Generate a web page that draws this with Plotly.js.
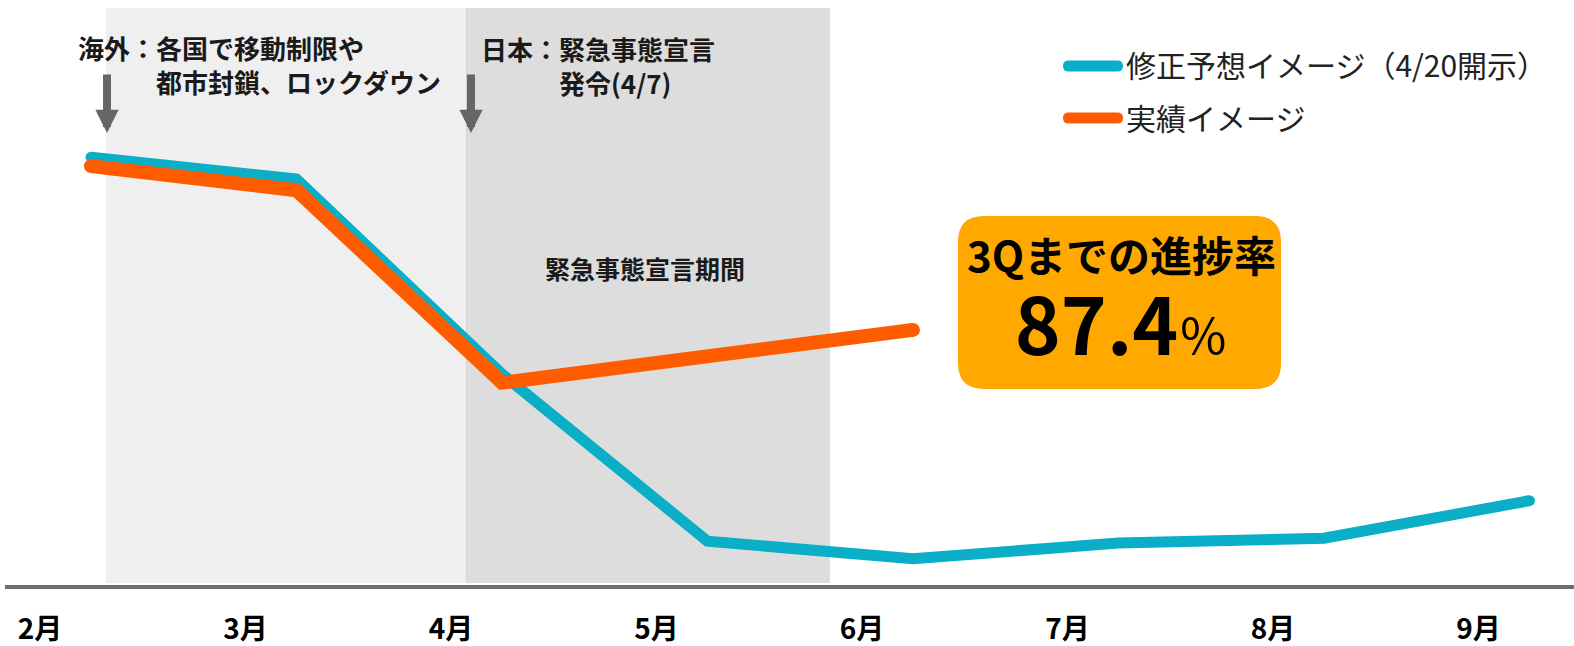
<!DOCTYPE html>
<html><head><meta charset="utf-8">
<script src="https://cdn.plot.ly/plotly-3.0.1.min.js"></script>
<style>html,body{margin:0;padding:0;background:#fff}</style>
</head><body><div id="chart" style="width:1574px;height:646px"></div>
<script>
// ---- data ----
const months = ['2月','3月','4月','5月','6月','7月','8月','9月'];
const forecastName = '修正予想イメージ（4/20開示）';
const actualName = '実績イメージ';
const forecast = [73.2, 69.5, 36.3, 7.8, 4.8, 7.5, 8.3, 14.7];
const actual = [71.7, 67.6, 34.8, null, 43.8];   // no May point: straight line Apr -> Jun
const progressLabel = '3Qまでの進捗率';
const progressValue = '87.4';
const overseasNote = ['海外：各国で移動制限や', '都市封鎖、ロックダウン'];
const japanNote = ['日本：緊急事態宣言', '発令(4/7)'];
const periodLabel = '緊急事態宣言期間';

// ---- layout helpers (pixel -> axis units) ----
const UNIT = 205.5, X0PX = 40;
const X = px => (px - X0PX) / UNIT;
const Y = py => (587 - py) / 5.87;
const OFFSET = 0.248;

const BLUE = '#0AAEC6', ORANGE = '#FF5C00', BOX = '#FFA800';
const CJK = 'Noto Sans CJK JP, Noto Sans, sans-serif';
const IND = '\u3000\u3000\u3000';

function roundRect(x0, y0, x1, y1, r) {
  const p = (a, b) => X(a) + ',' + Y(b);
  return 'M' + p(x0 + r, y0) + ' L' + p(x1 - r, y0) + ' Q' + p(x1, y0) + ' ' + p(x1, y0 + r) +
    ' L' + p(x1, y1 - r) + ' Q' + p(x1, y1) + ' ' + p(x1 - r, y1) +
    ' L' + p(x0 + r, y1) + ' Q' + p(x0, y1) + ' ' + p(x0, y1 - r) +
    ' L' + p(x0, y0 + r) + ' Q' + p(x0, y0) + ' ' + p(x0 + r, y0) + ' Z';
}
function endSizes(arr, s) {
  const idx = arr.map((v, i) => v == null ? -1 : i).filter(i => i >= 0);
  const first = idx[0], last = idx[idx.length - 1];
  return arr.map((_, i) => (i === first || i === last) ? s : 0);
}

const traces = [
  {
    name: forecastName, type: 'scatter', mode: 'lines+markers',
    x: forecast.map((_, i) => i + OFFSET), y: forecast,
    line: {color: BLUE, width: 11},
    marker: {color: BLUE, opacity: 1, size: endSizes(forecast, 11), line: {width: 0}},
    hoverinfo: 'skip'
  },
  {
    name: actualName, type: 'scatter', mode: 'lines+markers', connectgaps: true,
    x: actual.map((_, i) => i + OFFSET), y: actual,
    line: {color: ORANGE, width: 14},
    marker: {color: ORANGE, opacity: 1, size: endSizes(actual, 14), line: {width: 0}},
    hoverinfo: 'skip'
  }
];

const shapes = [
  {type: 'rect', layer: 'below', xref: 'x', yref: 'y', x0: X(106), x1: X(466), y0: Y(583), y1: Y(8),
   fillcolor: '#EFEFEF', line: {width: 0}},
  {type: 'rect', layer: 'below', xref: 'x', yref: 'y', x0: X(466), x1: X(830), y0: Y(583), y1: Y(8),
   fillcolor: '#DDDDDD', line: {width: 0}},
  {type: 'line', layer: 'below', xref: 'x', yref: 'y', x0: X(466.5), x1: X(466.5), y0: Y(583), y1: Y(8),
   line: {color: '#D2D2D2', width: 1}},
  {type: 'path', layer: 'above', xref: 'x', yref: 'y', path: roundRect(958, 216, 1281, 389, 26),
   fillcolor: BOX, line: {width: 0}},
  {type: 'path', layer: 'above', xref: 'x', yref: 'y', path: roundRect(1063, 60.5, 1123, 71.5, 5.5),
   fillcolor: BLUE, line: {width: 0}},
  {type: 'path', layer: 'above', xref: 'x', yref: 'y', path: roundRect(1063, 112.5, 1123, 123.5, 5.5),
   fillcolor: ORANGE, line: {width: 0}}
];

const noteFont = {family: CJK, size: 26, color: '#1a1a1a', weight: 700};
const annotations = [
  {x: X(107), y: Y(133), text: '', showarrow: true, ax: 0, ay: -60,
   arrowhead: 2, arrowsize: 0.58, arrowwidth: 8, arrowcolor: '#666666', standoff: 0},
  {x: X(471), y: Y(133), text: '', showarrow: true, ax: 0, ay: -60,
   arrowhead: 2, arrowsize: 0.58, arrowwidth: 8, arrowcolor: '#666666', standoff: 0},
  {x: X(76), y: Y(64), text: overseasNote[0] + '<br>' + IND + overseasNote[1],
   xanchor: 'left', yanchor: 'middle', align: 'left'},
  {x: X(479), y: Y(65), text: japanNote[0] + '<br>' + IND + japanNote[1],
   xanchor: 'left', yanchor: 'middle', align: 'left'},
  {x: X(645), y: Y(268), text: periodLabel, xanchor: 'center', yanchor: 'middle',
   font: {family: CJK, size: 25, color: '#1a1a1a', weight: 700}},
  {x: X(1121), y: Y(300), xanchor: 'center', yanchor: 'middle', align: 'center',
   text: '<span style="font-size:42px">' + progressLabel + '</span><br>' +
         '<span style="font-size:78px">' + progressValue + '</span>' +
         '<span style="font-size:50px;font-weight:400">％</span>',
   font: {family: CJK, size: 64, color: '#000', weight: 700}},
  {x: X(1124), y: Y(64), text: forecastName, xanchor: 'left', yanchor: 'middle',
   font: {family: CJK, size: 30, color: '#222', weight: 400}},
  {x: X(1124), y: Y(117), text: actualName, xanchor: 'left', yanchor: 'middle',
   font: {family: CJK, size: 30, color: '#222', weight: 400}}
].map(a => Object.assign({xref: 'x', yref: 'y', showarrow: false, font: noteFont}, a));

const layout = {
  width: 1574, height: 646,
  margin: {l: 5, r: 0, t: 0, b: 61, pad: 0},
  paper_bgcolor: '#ffffff', plot_bgcolor: '#ffffff',
  showlegend: false,
  xaxis: {
    range: [X(5), X(1574)], tickmode: 'array', tickvals: months.map((_, i) => i), ticktext: months,
    showgrid: false, zeroline: false, showline: true, linecolor: '#6e6e6e', linewidth: 4,
    ticks: '', ticklabelstandoff: 16, fixedrange: true,
    tickfont: {family: 'Liberation Sans Narrow, ' + CJK, size: 28, color: '#000', weight: 700}
  },
  yaxis: {range: [Y(585), Y(0)], visible: false, fixedrange: true},
  shapes: shapes,
  annotations: annotations
};

Plotly.newPlot('chart', traces, layout, {displayModeBar: false, staticPlot: true});
</script></body></html>
